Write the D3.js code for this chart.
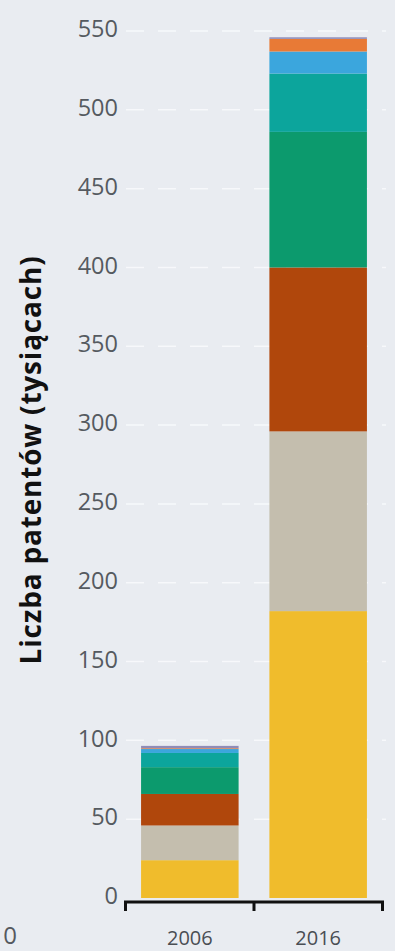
<!DOCTYPE html>
<html>
<head>
<meta charset="utf-8">
<script src="https://cdn.jsdelivr.net/npm/d3@7/dist/d3.min.js"></script>
<style>
  html, body { margin: 0; padding: 0; background: #e9ecf1; }
  svg { display: block; }
</style>
</head>
<body>
<svg id="chart" width="395" height="951"></svg>
<script>
// Patents granted (thousands), stacked by origin
const years = ["2006", "2016"];
const seriesNames = ["s1", "s2", "s3", "s4", "s5", "s6", "s7", "s8"];
const seriesColors = ["#f0bc2c", "#c4beae", "#b0470c", "#0c9a6d", "#0ca59c", "#3ba6dd", "#e87a36", "#8f8cb8"];
const s1 = [24, 182];
const s2 = [22, 114];
const s3 = [20, 104];
const s4 = [17, 86];
const s5 = [9, 37];
const s6 = [2.5, 14];
const s7 = [0.5, 8];
const s8 = [1.5, 1];
const seriesValues = [s1, s2, s3, s4, s5, s6, s7, s8];
const yTicks = [0, 50, 100, 150, 200, 250, 300, 350, 400, 450, 500, 550];
const yTitle = "Liczba patentów (tysiącach)";

const rows = years.map((yr, i) => {
  const r = { year: yr };
  seriesNames.forEach((n, k) => { r[n] = seriesValues[k][i]; });
  return r;
});

const svg = d3.select("#chart");
const font = "'Open Sans', 'DejaVu Sans', sans-serif";

const x = d3.scaleBand().domain(years).range([124, 384])
  .paddingInner(0.24).paddingOuter(0.133);
const y = d3.scaleLinear().domain([0, 550]).range([898, 31]);

// faint dashed gridlines
svg.append("g").selectAll("line").data(yTicks.filter(d => d > 0)).join("line")
  .attr("x1", 126).attr("x2", 386)
  .attr("y1", d => y(d)).attr("y2", d => y(d))
  .attr("stroke", "#fbfcfd").attr("stroke-opacity", 0.75).attr("stroke-width", 1.5)
  .attr("stroke-dasharray", "18,14");

// y tick labels
svg.append("g").selectAll("text").data(yTicks).join("text")
  .attr("x", 118).attr("y", d => y(d) - 2)
  .attr("dy", "0.35em")
  .attr("text-anchor", "end")
  .attr("font-family", font).attr("font-size", 23.5)
  .attr("fill", "#555a60")
  .text(d => d);

// stacked bars
const stack = d3.stack().keys(seriesNames)(rows);
svg.append("g").selectAll("g").data(stack).join("g")
  .attr("fill", (d, i) => seriesColors[i])
  .selectAll("rect").data(d => d).join("rect")
  .attr("x", d => x(d.data.year))
  .attr("width", x.bandwidth())
  .attr("y", d => y(d[1]))
  .attr("height", d => y(d[0]) - y(d[1]));

// x axis: baseline with ticks at band boundaries
const axisY = 902;
const r0 = x.range()[0], r1 = x.range()[1];
const mid = (x(years[0]) + x.bandwidth() + x(years[1])) / 2;
svg.append("line").attr("x1", r0).attr("x2", r1)
  .attr("y1", axisY).attr("y2", axisY)
  .attr("stroke", "#111").attr("stroke-width", 3);
svg.append("g").selectAll("line").data([r0 + 1.5, mid, r1 - 1.5]).join("line")
  .attr("x1", d => d).attr("x2", d => d)
  .attr("y1", axisY).attr("y2", axisY + 9)
  .attr("stroke", "#111").attr("stroke-width", 3);

// x labels
svg.append("g").selectAll("text").data(years).join("text")
  .attr("x", d => x(d) + x.bandwidth() / 2)
  .attr("y", 945)
  .attr("text-anchor", "middle")
  .attr("font-family", font).attr("font-size", 20)
  .attr("fill", "#4a4e54")
  .text(d => d);

// y axis title
svg.append("text")
  .attr("transform", "translate(41,460) rotate(-90)")
  .attr("text-anchor", "middle")
  .attr("font-family", font).attr("font-size", 28).attr("font-weight", 700)
  .attr("letter-spacing", 0.8)
  .attr("fill", "#111")
  .text(yTitle);

// partial label at the left edge
svg.append("text")
  .attr("x", 17).attr("y", 944)
  .attr("text-anchor", "end")
  .attr("font-family", font).attr("font-size", 24)
  .attr("fill", "#55595f")
  .text("0");
</script>
</body>
</html>
